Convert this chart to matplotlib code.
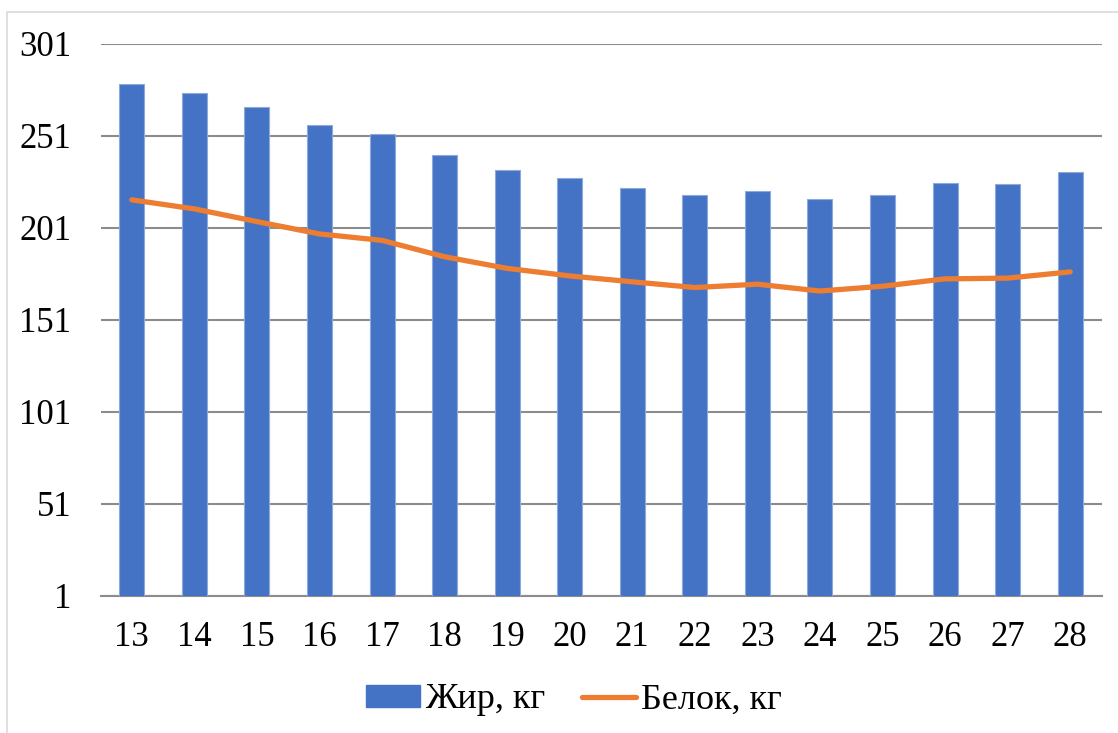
import matplotlib
matplotlib.use("Agg")
import matplotlib.pyplot as plt
from matplotlib.patches import Rectangle, Patch
from matplotlib.lines import Line2D

# Data
weeks = ["13", "14", "15", "16", "17", "18", "19", "20",
         "21", "22", "23", "24", "25", "26", "27", "28"]
fat_kg = [278.8, 274.3, 266.6, 256.8, 252.1, 240.5, 232.5, 227.7,
          222.3, 218.7, 220.8, 216.6, 218.8, 225.2, 224.8, 231.4]
protein_kg = [216.1, 211.2, 204.3, 197.6, 194.1, 185.2, 178.9, 174.8,
              171.6, 168.5, 170.3, 166.6, 169.2, 173.2, 173.6, 177.0]
y_ticks = [1, 51, 101, 151, 201, 251, 301]

BLUE = "#4472C4"
ORANGE = "#ED7D31"
GRID = "#8c8c8c"
FS = 25
FS_LEG = 26

plt.rcParams["font.family"] = ["Liberation Serif", "DejaVu Serif"]

W, H = 1118, 733
fig = plt.figure(figsize=(W / 100, H / 100), dpi=100)

# Chart-area frame
fig.patches.append(Rectangle((7 / W, -0.01), 1.05, 1 - 12 / H + 0.01,
                             transform=fig.transFigure, fill=False,
                             edgecolor="#d9d9d9", linewidth=1.2))

ax = fig.add_axes([100.5 / W, 1 - 596 / H, 1001 / W, (596 - 43.5) / H])

x = list(range(len(weeks)))
ax.bar(x, fat_kg, width=0.40, color=BLUE, edgecolor="#8eaadb",
       linewidth=0.8, zorder=2)
ax.plot(x, protein_kg, color=ORANGE, linewidth=3.8,
        solid_capstyle="round", solid_joinstyle="round", zorder=3)

ax.set_xlim(-0.5, len(weeks) - 0.5)
ax.set_ylim(1, 301)
ax.set_yticks(y_ticks)
ax.set_yticklabels([str(v) for v in y_ticks])
ax.set_xticks(x)
ax.set_xticklabels(weeks)
ax.tick_params(axis="both", length=0, labelsize=FS)
ax.tick_params(axis="y", pad=21)
ax.tick_params(axis="x", pad=18)

ax.grid(axis="y", color=GRID, linewidth=1.5, zorder=0)
ax.set_axisbelow(True)
for side in ("top", "right", "left"):
    ax.spines[side].set_visible(False)
ax.spines["bottom"].set_color(GRID)
ax.spines["bottom"].set_linewidth(1.5)
ax.spines["bottom"].set_zorder(1)

handles = [Patch(facecolor=BLUE, edgecolor=BLUE),
           Line2D([0], [0], color=ORANGE, linewidth=3.8, solid_capstyle="round")]
fig.legend(handles, ["Жир, кг", "Белок, кг"], loc="center",
           bbox_to_anchor=(574 / W, 1 - 700 / H), ncol=2, frameon=False,
           fontsize=FS_LEG, handlelength=1.5, handleheight=0.55,
           handletextpad=0.15, columnspacing=1.0)

fig.savefig("out.png", dpi=100)
